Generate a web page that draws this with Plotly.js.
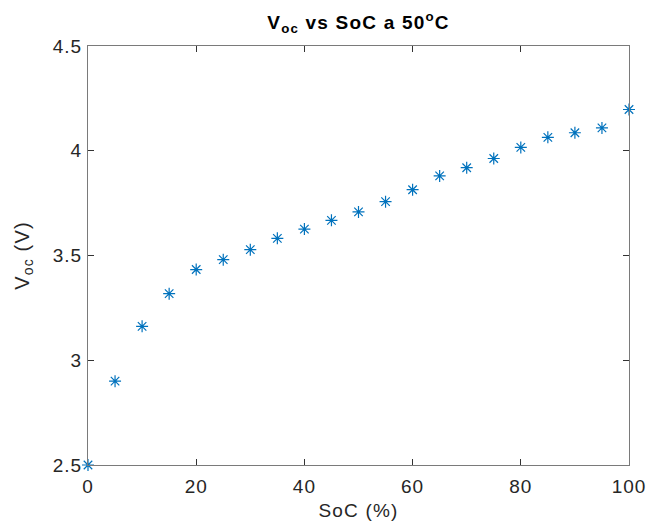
<!DOCTYPE html>
<html>
<head>
<meta charset="utf-8">
<script src="https://cdn.plot.ly/plotly-3.0.1.min.js"></script>
<style>
html,body{margin:0;padding:0;background:#fff;}
#chart{width:648px;height:528px;}
#chart .xtick text, #chart .ytick text{letter-spacing:1px;}
#chart .xtitle, #chart .ytitle{letter-spacing:1.2px;}
#chart .gtitle{letter-spacing:1.2px;}
</style>
</head>
<body>
<div id="chart"></div>
<script>
const soc = [0, 5, 10, 15, 20, 25, 30, 35, 40, 45, 50, 55, 60, 65, 70, 75, 80, 85, 90, 95, 100];
const voc = [2.50, 2.90, 3.162, 3.318, 3.433, 3.480, 3.528, 3.582, 3.626, 3.668, 3.708, 3.757, 3.814, 3.880, 3.919, 3.963, 4.016, 4.064, 4.086, 4.109, 4.197];
const xTicks = [0, 20, 40, 60, 80, 100];
const yTicks = [2.5, 3, 3.5, 4, 4.5];
const yTickLabels = ['2.5', '3', '3.5', '4', '4.5'];

const font = 'Liberation Sans, Arial, Helvetica, sans-serif';
const axisCommon = {
  showline: true, linecolor: '#7a7a7a', linewidth: 1, mirror: 'ticks',
  ticks: 'inside', ticklen: 6, tickcolor: '#333', tickwidth: 1,
  showgrid: false, zeroline: false,
  tickfont: {family: font, size: 19, color: '#262626'}
};
Plotly.newPlot('chart', [{
  x: soc, y: voc, type: 'scatter', mode: 'markers',
  marker: {symbol: 'asterisk-open', size: 10, color: '#0072BD', line: {color: '#0072BD', width: 1.2}},
  cliponaxis: false
}], {
  width: 648, height: 528,
  margin: {l: 88, r: 19, t: 46, b: 63},
  paper_bgcolor: '#fff', plot_bgcolor: '#fff',
  showlegend: false,
  title: {text: '<b>V<sub>oc</sub> vs SoC a 50<sup>o</sup>C</b>', xref: 'paper', x: 0.5, xanchor: 'center',
    y: 0.958, yanchor: 'middle',
    font: {family: font, size: 19, color: '#000'}},
  xaxis: Object.assign({}, axisCommon, {range: [0, 100], tickvals: xTicks, ticklabelstandoff: 4,
    title: {text: 'SoC (%)', font: {family: font, size: 19, color: '#262626'}, standoff: 7}}),
  yaxis: Object.assign({}, axisCommon, {range: [2.5, 4.5], tickvals: yTicks, ticktext: yTickLabels, ticklabelstandoff: 1,
    title: {text: 'V<sub>oc</sub> (V)', font: {family: font, size: 20, color: '#262626'}, standoff: 20}})
}, {displayModeBar: false, staticPlot: true});
</script>
</body>
</html>
